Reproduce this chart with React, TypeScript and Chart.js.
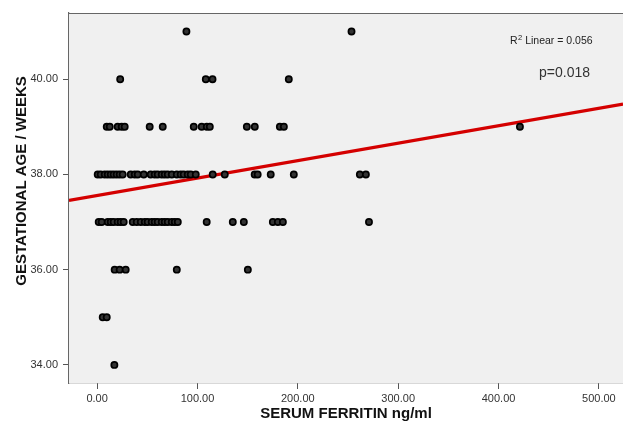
import React, { useEffect, useRef } from "react";
import { Chart, registerables } from "chart.js";

Chart.register(...registerables);

// Serum ferritin (ng/ml) values, grouped by gestational age (weeks)
const ages = [41, 40, 39, 38, 37, 36, 35, 34];
const ferritinAt41 = [89, 253.5];
const ferritinAt40 = [23, 108.3, 115, 191];
const ferritinAt39 = [9.6, 12.6, 20.5, 24.5, 27.5, 52.4, 65.4, 96.3, 104.2, 109.3, 112.3, 149.2, 157.1, 182.1, 186.1, 421.3];
const ferritinAt38 = [0.6, 3.6, 7.6, 10.6, 13.6, 16.5, 19.5, 22.5, 25.5, 33.5, 37.5, 40.5, 46.5, 53.4, 57.4, 60.4, 64.4, 67.4, 70.4, 74.4, 79.4, 83.3, 86.3, 90.3, 93.3, 98.3, 115.2, 127.2, 157, 160, 173, 196, 261.8, 267.8];
const ferritinAt37 = [1.6, 4.6, 10.6, 13.6, 16.5, 20.5, 23.5, 26.5, 35.5, 39.5, 43.5, 47.5, 50.4, 54.4, 57.4, 60.4, 64.4, 67.4, 70.4, 74.4, 77.4, 80.4, 109.2, 135.2, 146.2, 175.1, 180.1, 185.1, 270.9];
const ferritinAt36 = [17.5, 22.5, 28.5, 79.4, 150.2];
const ferritinAt35 = [5.6, 9.6];
const ferritinAt34 = [17.2];
const ferritinByAge = [ferritinAt41, ferritinAt40, ferritinAt39, ferritinAt38, ferritinAt37, ferritinAt36, ferritinAt35, ferritinAt34];

// Linear fit line end points
const fitX = [-28, 524];
const fitY = [37.455, 39.478];

const xTicks = [0, 100, 200, 300, 400, 500];
const yTicks = [34, 36, 38, 40];
const xRange = [-28, 524];
const yRange = [33.62, 41.39];

const xTitle = "SERUM FERRITIN ng/ml";
const yTitle = "GESTATIONAL AGE / WEEKS";
const r2Label = " Linear = 0.056";
const pLabel = "p=0.018";

const FONT = "'Liberation Sans', Arial, sans-serif";

export default function App() {
  const ref = useRef<HTMLCanvasElement | null>(null);

  useEffect(() => {
    document.body.style.margin = "0";
    const canvas = ref.current;
    if (!canvas) return;

    const points: { x: number; y: number }[] = [];
    ages.forEach((age, i) => {
      ferritinByAge[i].forEach((f) => points.push({ x: f, y: age }));
    });
    const fit = fitX.map((x, i) => ({ x, y: fitY[i] }));

    const plotDeco = {
      id: "plotDeco",
      beforeDatasetsDraw(chart: any) {
        const { ctx, chartArea: a } = chart;
        ctx.save();
        ctx.fillStyle = "#f0f0f0";
        ctx.fillRect(a.left, a.top, a.right - a.left, a.bottom - a.top);
        ctx.strokeStyle = "#666";
        ctx.lineWidth = 1.2;
        ctx.beginPath();
        ctx.moveTo(a.left, a.top + 0.5);
        ctx.lineTo(a.right, a.top + 0.5);
        ctx.stroke();
        ctx.restore();
      },
      afterDraw(chart: any) {
        const { ctx } = chart;
        ctx.save();
        ctx.fillStyle = "#222";
        ctx.textBaseline = "alphabetic";
        ctx.textAlign = "left";
        ctx.font = `10.5px ${FONT}`;
        const rx = 510;
        const ry = 44;
        ctx.fillText("R", rx, ry);
        const rw = ctx.measureText("R").width;
        ctx.font = `7.5px ${FONT}`;
        ctx.fillText("2", rx + rw + 0.5, ry - 4.5);
        const sw = ctx.measureText("2").width;
        ctx.font = `10.5px ${FONT}`;
        ctx.fillText(r2Label, rx + rw + sw + 0.5, ry);
        ctx.font = `14px ${FONT}`;
        ctx.fillStyle = "#333";
        ctx.fillText(pLabel, 539, 77);

        // y-axis title
        ctx.translate(22, 181);
        ctx.rotate(-Math.PI / 2);
        ctx.textAlign = "center";
        ctx.textBaseline = "middle";
        ctx.fillStyle = "#111";
        ctx.font = `bold 15px ${FONT}`;
        ctx.fillText(yTitle, 0, 0);
        ctx.restore();
      },
    };

    const zeroPad = (scale: any) => {
      scale.paddingLeft = 0;
      scale.paddingRight = 0;
      scale.paddingTop = 0;
      scale.paddingBottom = 0;
    };

    const chart = new Chart(canvas, {
      type: "scatter",
      data: {
        datasets: [
          {
            type: "scatter",
            data: points,
            order: 0,
            pointRadius: 3.1,
            pointHoverRadius: 3.1,
            backgroundColor: "#333",
            borderColor: "#000",
            borderWidth: 1.7,
          },
          {
            type: "line",
            data: fit,
            order: 1,
            borderColor: "#d40000",
            borderWidth: 3.2,
            pointRadius: 0,
            fill: false,
          },
        ],
      } as any,
      plugins: [plotDeco],
      options: {
        animation: false,
        responsive: false,
        maintainAspectRatio: false,
        layout: { autoPadding: false, padding: { top: 13, left: 0, right: 0, bottom: 0 } },
        plugins: {
          legend: { display: false },
          tooltip: { enabled: false },
        },
        scales: {
          x: {
            type: "linear",
            min: xRange[0],
            max: xRange[1],
            afterFit(scale: any) {
              scale.height = 39;
              zeroPad(scale);
            },
            afterBuildTicks(scale: any) {
              scale.ticks = xTicks.map((v) => ({ value: v }));
            },
            grid: {
              drawOnChartArea: false,
              drawTicks: true,
              tickLength: 6,
              color: "#555",
            },
            border: { display: true, color: "#666", width: 1.2 },
            ticks: {
              padding: 3,
              color: "#333",
              font: { family: FONT, size: 11 },
              maxRotation: 0,
              callback: (v: any) => Number(v).toFixed(2),
            },
            title: {
              display: true,
              text: xTitle,
              color: "#111",
              font: { family: FONT, size: 15, weight: "bold" },
              padding: { top: 0, bottom: -1 },
            },
          },
          y: {
            type: "linear",
            min: yRange[0],
            max: yRange[1],
            afterFit(scale: any) {
              scale.width = 69;
              zeroPad(scale);
            },
            afterBuildTicks(scale: any) {
              scale.ticks = yTicks.map((v) => ({ value: v }));
            },
            grid: {
              drawOnChartArea: false,
              drawTicks: true,
              tickLength: 6,
              color: "#555",
            },
            border: { display: true, color: "#666", width: 1.2 },
            ticks: {
              padding: 5,
              color: "#333",
              font: { family: FONT, size: 11 },
              callback: (v: any) => Number(v).toFixed(2),
            },
          },
        },
      } as any,
    });

    return () => chart.destroy();
  }, []);

  return (
    <div style={{ width: 623, height: 422, position: "relative", background: "#fff" }}>
      <canvas ref={ref} width={623} height={422} style={{ display: "block" }} />
    </div>
  );
}
